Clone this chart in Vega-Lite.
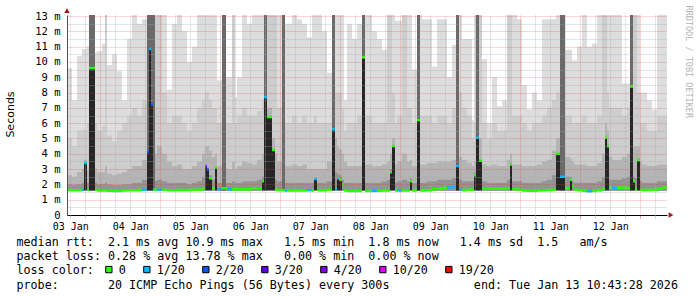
{
"$schema": "https://vega.github.io/schema/vega-lite/v6.json",
"width": 600, "height": 200,
"autosize": {"type": "none"},
"padding": {"left": 67, "top": 15, "right": 30, "bottom": 82},
"background": "white",
"config": {"view": {"stroke": null}},
"data": {"format": {"parse": {"s": "date", "e": "date"}}, "values": [
{"s":"2026-01-03T10:43Z","e":"2026-01-03T12:43Z","a":9.6,"b":5,"c":2.6,"d":2,"m":1.63,"L":"0"},
{"s":"2026-01-03T12:43Z","e":"2026-01-03T14:43Z","a":7.5,"b":4.5,"c":2.5,"d":1.95,"m":1.62,"L":"0"},
{"s":"2026-01-03T14:43Z","e":"2026-01-03T16:43Z","a":10.4,"b":5.5,"c":2.8,"d":2,"m":1.62,"L":"0"},
{"s":"2026-01-03T16:43Z","e":"2026-01-03T17:31Z","a":10.85,"b":5.6,"c":3,"d":2.1,"m":1.65,"L":"1/20"},
{"s":"2026-01-03T17:31Z","e":"2026-01-03T18:43Z","a":10.85,"b":5.6,"c":3.6,"d":3.4,"k":3.4,"m":3.4,"L":"1/20"},
{"s":"2026-01-03T18:43Z","e":"2026-01-03T19:31Z","a":11,"b":6,"c":2.9,"d":2.1,"m":1.65,"L":"0"},
{"s":"2026-01-03T19:31Z","e":"2026-01-03T21:55Z","a":13.5,"b":13.5,"c":13.5,"d":13.5,"f":13.5,"k":9.6,"m":9.6,"L":"0"},
{"s":"2026-01-03T21:55Z","e":"2026-01-03T22:43Z","a":10.6,"b":6,"c":3,"d":2.1,"m":1.65,"L":"0"},
{"s":"2026-01-03T22:43Z","e":"2026-01-04T00:43Z","a":10.7,"b":5.5,"c":2.8,"d":2,"m":1.6,"L":"0"},
{"s":"2026-01-04T00:43Z","e":"2026-01-04T01:55Z","a":11.2,"b":5.8,"c":2.8,"d":2,"m":1.6,"L":"0"},
{"s":"2026-01-04T01:55Z","e":"2026-01-04T02:43Z","a":13.5,"b":13.5,"c":3.2,"d":2.1,"m":1.6,"L":"0"},
{"s":"2026-01-04T02:43Z","e":"2026-01-04T04:43Z","a":9.8,"b":5.2,"c":2.7,"d":2,"m":1.58,"L":"0"},
{"s":"2026-01-04T04:43Z","e":"2026-01-04T06:43Z","a":10.5,"b":4.8,"c":2.6,"d":1.95,"m":1.57,"L":"0"},
{"s":"2026-01-04T06:43Z","e":"2026-01-04T08:43Z","a":9.4,"b":5.5,"c":2.7,"d":1.95,"m":1.57,"L":"0"},
{"s":"2026-01-04T08:43Z","e":"2026-01-04T10:43Z","a":7.5,"b":6,"c":2.8,"d":2,"m":1.6,"L":"0"},
{"s":"2026-01-04T10:43Z","e":"2026-01-04T12:43Z","a":11.5,"b":6.5,"c":3,"d":2,"m":1.62,"L":"0"},
{"s":"2026-01-04T12:43Z","e":"2026-01-04T14:43Z","a":13.5,"b":7,"c":3.2,"d":2.1,"m":1.62,"L":"0"},
{"s":"2026-01-04T14:43Z","e":"2026-01-04T16:43Z","a":12.5,"b":6.5,"c":3.2,"d":2.1,"m":1.63,"L":"0"},
{"s":"2026-01-04T16:43Z","e":"2026-01-04T18:43Z","a":12.8,"b":7.5,"c":3.6,"d":2.3,"m":1.65,"L":"1/20"},
{"s":"2026-01-04T18:43Z","e":"2026-01-04T19:31Z","a":13.5,"b":13.5,"c":13.5,"d":13.5,"f":13.5,"k":4.1,"m":4.1,"L":"2/20"},
{"s":"2026-01-04T19:31Z","e":"2026-01-04T20:19Z","a":13.5,"b":13.5,"c":13.5,"d":13.5,"f":13.5,"k":10.85,"m":10.85,"L":"1/20"},
{"s":"2026-01-04T20:19Z","e":"2026-01-04T21:07Z","a":13.5,"b":13.5,"c":13.5,"d":13.5,"f":13.5,"k":7.2,"m":7.2,"L":"2/20"},
{"s":"2026-01-04T21:07Z","e":"2026-01-04T21:55Z","a":13.5,"b":13.5,"c":13.5,"d":2.3,"f":13.5,"m":1.65,"L":"0"},
{"s":"2026-01-04T21:55Z","e":"2026-01-04T22:43Z","a":13.5,"b":13.5,"c":4,"d":2.2,"m":1.65,"L":"0"},
{"s":"2026-01-04T22:43Z","e":"2026-01-05T00:43Z","a":13.5,"b":13.5,"c":4.5,"d":2.3,"m":1.65,"L":"1/20"},
{"s":"2026-01-05T00:43Z","e":"2026-01-05T02:43Z","a":13.5,"b":8,"c":4,"d":2.2,"m":1.65,"L":"0"},
{"s":"2026-01-05T02:43Z","e":"2026-01-05T04:43Z","a":8.2,"b":6,"c":3.5,"d":2.1,"m":1.62,"L":"0"},
{"s":"2026-01-05T04:43Z","e":"2026-01-05T06:43Z","a":12.5,"b":6.5,"c":3.2,"d":2.1,"m":1.62,"L":"0"},
{"s":"2026-01-05T06:43Z","e":"2026-01-05T08:43Z","a":13.5,"b":6.5,"c":3.3,"d":2.1,"m":1.63,"L":"0"},
{"s":"2026-01-05T08:43Z","e":"2026-01-05T10:43Z","a":12,"b":6,"c":3,"d":2.1,"m":1.63,"L":"0"},
{"s":"2026-01-05T10:43Z","e":"2026-01-05T12:43Z","a":10,"b":5.5,"c":3,"d":2,"m":1.63,"L":"0"},
{"s":"2026-01-05T12:43Z","e":"2026-01-05T14:43Z","a":11,"b":6,"c":3.2,"d":2.1,"m":1.65,"L":"0"},
{"s":"2026-01-05T14:43Z","e":"2026-01-05T16:43Z","a":13.5,"b":7,"c":3.5,"d":2.2,"m":1.65,"L":"0"},
{"s":"2026-01-05T16:43Z","e":"2026-01-05T17:55Z","a":13.5,"b":7.5,"c":4,"d":2.5,"m":1.7,"L":"0"},
{"s":"2026-01-05T17:55Z","e":"2026-01-05T18:43Z","a":13.5,"b":8,"c":4.5,"d":3.3,"k":3.15,"m":3.15,"L":"3/20"},
{"s":"2026-01-05T18:43Z","e":"2026-01-05T19:31Z","a":13.5,"b":8,"c":4.5,"d":3.1,"k":2.95,"m":2.95,"L":"2/20"},
{"s":"2026-01-05T19:31Z","e":"2026-01-05T20:43Z","a":13.5,"b":7.5,"c":4.2,"d":2.6,"k":2.4,"m":2.4,"L":"0"},
{"s":"2026-01-05T20:43Z","e":"2026-01-05T21:55Z","a":13.5,"b":7,"c":3.8,"d":2.3,"m":1.75,"L":"0"},
{"s":"2026-01-05T21:55Z","e":"2026-01-05T22:43Z","a":13.5,"b":7,"c":4,"d":3.2,"k":3.1,"m":3.1,"L":"0"},
{"s":"2026-01-05T22:43Z","e":"2026-01-06T00:43Z","a":8.8,"b":6,"c":3.2,"d":2.1,"m":1.68,"L":"1/20"},
{"s":"2026-01-06T00:43Z","e":"2026-01-06T02:19Z","a":13.5,"b":13.5,"c":13.5,"d":2.3,"f":13.5,"m":1.75,"L":"0"},
{"s":"2026-01-06T02:19Z","e":"2026-01-06T02:43Z","a":9,"b":6,"c":3,"d":2.1,"m":1.68,"L":"0"},
{"s":"2026-01-06T02:43Z","e":"2026-01-06T04:43Z","a":9,"b":6,"c":3,"d":2.1,"m":1.68,"L":"1/20"},
{"s":"2026-01-06T04:43Z","e":"2026-01-06T05:55Z","a":13.5,"b":13.5,"c":3.5,"d":2.2,"m":1.68,"L":"0"},
{"s":"2026-01-06T05:55Z","e":"2026-01-06T06:43Z","a":7.7,"b":6,"c":3,"d":2.1,"m":1.68,"L":"0"},
{"s":"2026-01-06T06:43Z","e":"2026-01-06T08:43Z","a":9,"b":6.5,"c":3.2,"d":2.1,"m":1.67,"L":"0"},
{"s":"2026-01-06T08:43Z","e":"2026-01-06T10:43Z","a":13.5,"b":7,"c":3.5,"d":2.2,"m":1.68,"L":"0"},
{"s":"2026-01-06T10:43Z","e":"2026-01-06T12:43Z","a":12.5,"b":6.5,"c":3.4,"d":2.2,"m":1.68,"L":"0"},
{"s":"2026-01-06T12:43Z","e":"2026-01-06T14:43Z","a":13.5,"b":6.5,"c":3.3,"d":2.2,"m":1.75,"L":"0"},
{"s":"2026-01-06T14:43Z","e":"2026-01-06T16:43Z","a":13.5,"b":6.8,"c":3.6,"d":2.3,"m":1.72,"L":"0"},
{"s":"2026-01-06T16:43Z","e":"2026-01-06T17:31Z","a":13.5,"b":7.5,"c":4,"d":2.5,"k":2.2,"m":2.2,"L":"0"},
{"s":"2026-01-06T17:31Z","e":"2026-01-06T18:43Z","a":13.5,"b":13.5,"c":13.5,"d":13.5,"f":13.5,"k":7.7,"m":7.7,"L":"1/20"},
{"s":"2026-01-06T18:43Z","e":"2026-01-06T20:43Z","a":13.5,"b":13.5,"c":7,"d":6.4,"k":6.4,"m":6.4,"L":"0"},
{"s":"2026-01-06T20:43Z","e":"2026-01-06T21:55Z","a":13.5,"b":13.5,"c":5,"d":4.3,"k":4.25,"m":4.25,"L":"0"},
{"s":"2026-01-06T21:55Z","e":"2026-01-06T22:43Z","a":13.5,"b":13.5,"c":4,"d":2.3,"m":1.65,"L":"0"},
{"s":"2026-01-06T22:43Z","e":"2026-01-07T00:43Z","a":13.5,"b":7,"c":3.5,"d":2.2,"m":1.63,"L":"0"},
{"s":"2026-01-07T00:43Z","e":"2026-01-07T01:55Z","a":13.5,"b":13.5,"c":13.5,"d":2.4,"f":13.5,"m":1.62,"L":"0"},
{"s":"2026-01-07T01:55Z","e":"2026-01-07T02:43Z","a":12.5,"b":6,"c":3.2,"d":2.1,"m":1.6,"L":"1/20"},
{"s":"2026-01-07T02:43Z","e":"2026-01-07T04:43Z","a":12.5,"b":6,"c":3.2,"d":2.1,"m":1.6,"L":"0"},
{"s":"2026-01-07T04:43Z","e":"2026-01-07T06:43Z","a":13.5,"b":6.5,"c":3.3,"d":2.1,"m":1.6,"L":"0"},
{"s":"2026-01-07T06:43Z","e":"2026-01-07T08:43Z","a":12.8,"b":6,"c":3.2,"d":2.1,"m":1.6,"L":"0"},
{"s":"2026-01-07T08:43Z","e":"2026-01-07T10:43Z","a":12.5,"b":6.5,"c":3.3,"d":2.1,"m":1.6,"L":"0"},
{"s":"2026-01-07T10:43Z","e":"2026-01-07T12:43Z","a":11.6,"b":6,"c":3,"d":2.1,"m":1.62,"L":"1/20"},
{"s":"2026-01-07T12:43Z","e":"2026-01-07T13:31Z","a":13.5,"b":6,"c":3,"d":2.1,"m":1.6,"L":"0"},
{"s":"2026-01-07T13:31Z","e":"2026-01-07T14:43Z","a":13.5,"b":6.5,"c":3,"d":2.4,"k":2.35,"m":2.35,"L":"1/20"},
{"s":"2026-01-07T14:43Z","e":"2026-01-07T16:43Z","a":13.5,"b":6,"c":3,"d":2.1,"m":1.62,"L":"0"},
{"s":"2026-01-07T16:43Z","e":"2026-01-07T18:43Z","a":12,"b":6,"c":3,"d":2.1,"m":1.62,"L":"0"},
{"s":"2026-01-07T18:43Z","e":"2026-01-07T20:43Z","a":9.3,"b":6,"c":3.5,"d":2.2,"m":1.65,"L":"0"},
{"s":"2026-01-07T20:43Z","e":"2026-01-07T21:55Z","a":13.5,"b":13.5,"c":13.5,"d":13.5,"f":13.5,"k":5.6,"m":5.6,"L":"1/20"},
{"s":"2026-01-07T21:55Z","e":"2026-01-07T22:43Z","a":13.5,"b":8,"c":5,"d":2.8,"m":1.7,"L":"1/20"},
{"s":"2026-01-07T22:43Z","e":"2026-01-07T23:31Z","a":13.5,"b":8,"c":4.5,"d":2.7,"k":2.4,"m":2.4,"L":"1/20"},
{"s":"2026-01-07T23:31Z","e":"2026-01-08T00:43Z","a":13.5,"b":8,"c":4.3,"d":2.6,"k":2.3,"m":2.3,"L":"0"},
{"s":"2026-01-08T00:43Z","e":"2026-01-08T01:31Z","a":13.5,"b":7,"c":4,"d":2.3,"m":2,"L":"0"},
{"s":"2026-01-08T01:31Z","e":"2026-01-08T02:43Z","a":7.5,"b":5.5,"c":3.5,"d":2.1,"m":1.6,"L":"0"},
{"s":"2026-01-08T02:43Z","e":"2026-01-08T04:43Z","a":12.5,"b":6,"c":3.2,"d":2.1,"m":1.57,"L":"0"},
{"s":"2026-01-08T04:43Z","e":"2026-01-08T06:43Z","a":11.5,"b":6,"c":3.2,"d":2.1,"m":1.57,"L":"0"},
{"s":"2026-01-08T06:43Z","e":"2026-01-08T08:43Z","a":12.5,"b":6.5,"c":3.2,"d":2.1,"m":1.57,"L":"0"},
{"s":"2026-01-08T08:43Z","e":"2026-01-08T09:55Z","a":13.5,"b":13.5,"c":13.5,"d":13.5,"f":13.5,"k":10.3,"m":10.3,"L":"0"},
{"s":"2026-01-08T09:55Z","e":"2026-01-08T10:43Z","a":13.5,"b":6.5,"c":3.3,"d":2.1,"m":1.57,"L":"0"},
{"s":"2026-01-08T10:43Z","e":"2026-01-08T12:43Z","a":13.5,"b":6.5,"c":3.3,"d":2.1,"m":1.57,"L":"0"},
{"s":"2026-01-08T12:43Z","e":"2026-01-08T14:43Z","a":12,"b":6,"c":3.2,"d":2.1,"m":1.58,"L":"1/20"},
{"s":"2026-01-08T14:43Z","e":"2026-01-08T16:43Z","a":11.5,"b":6,"c":3.2,"d":2.1,"m":1.58,"L":"0"},
{"s":"2026-01-08T16:43Z","e":"2026-01-08T18:43Z","a":10.8,"b":6,"c":3.3,"d":2.2,"m":1.6,"L":"0"},
{"s":"2026-01-08T18:43Z","e":"2026-01-08T19:55Z","a":13.5,"b":13.5,"c":3.5,"d":2.3,"m":1.6,"L":"0"},
{"s":"2026-01-08T19:55Z","e":"2026-01-08T20:43Z","a":13.5,"b":13.5,"c":4,"d":3,"k":2.8,"m":2.8,"L":"0"},
{"s":"2026-01-08T20:43Z","e":"2026-01-08T21:55Z","a":13.5,"b":8,"c":5,"d":4.5,"k":4.5,"m":4.5,"L":"0"},
{"s":"2026-01-08T21:55Z","e":"2026-01-08T22:43Z","a":12.7,"b":6,"c":3.3,"d":2.1,"m":1.6,"L":"0"},
{"s":"2026-01-08T22:43Z","e":"2026-01-09T00:43Z","a":12.7,"b":6.5,"c":3.5,"d":2.2,"m":1.6,"L":"1/20"},
{"s":"2026-01-09T00:43Z","e":"2026-01-09T02:43Z","a":13.5,"b":13.5,"c":4,"d":2.3,"m":1.6,"L":"0"},
{"s":"2026-01-09T02:43Z","e":"2026-01-09T03:55Z","a":13.5,"b":7,"c":3.5,"d":2.2,"m":1.6,"L":"0"},
{"s":"2026-01-09T03:55Z","e":"2026-01-09T04:43Z","a":13.5,"b":7,"c":3.6,"d":2.4,"k":2.2,"m":2.2,"L":"0"},
{"s":"2026-01-09T04:43Z","e":"2026-01-09T06:43Z","a":9.5,"b":6,"c":3.2,"d":2.1,"m":1.6,"L":"0"},
{"s":"2026-01-09T06:43Z","e":"2026-01-09T07:55Z","a":13.5,"b":13.5,"c":13.5,"d":13.5,"f":13.5,"k":6.2,"m":6.2,"L":"0"},
{"s":"2026-01-09T07:55Z","e":"2026-01-09T08:43Z","a":13.5,"b":6.5,"c":3.3,"d":2.1,"m":1.6,"L":"0"},
{"s":"2026-01-09T08:43Z","e":"2026-01-09T10:43Z","a":12.8,"b":6.5,"c":3.3,"d":2.1,"m":1.6,"L":"0"},
{"s":"2026-01-09T10:43Z","e":"2026-01-09T12:43Z","a":12.8,"b":6.5,"c":3.4,"d":2.2,"m":1.62,"L":"0"},
{"s":"2026-01-09T12:43Z","e":"2026-01-09T14:43Z","a":9.7,"b":6,"c":3.4,"d":2.2,"m":1.68,"L":"0"},
{"s":"2026-01-09T14:43Z","e":"2026-01-09T16:43Z","a":12.8,"b":6.5,"c":3.5,"d":2.3,"m":1.72,"L":"0"},
{"s":"2026-01-09T16:43Z","e":"2026-01-09T18:43Z","a":12.8,"b":6.5,"c":3.5,"d":2.3,"m":1.76,"L":"0"},
{"s":"2026-01-09T18:43Z","e":"2026-01-09T20:43Z","a":9,"b":6,"c":3.5,"d":2.3,"m":1.8,"L":"1/20"},
{"s":"2026-01-09T20:43Z","e":"2026-01-09T22:19Z","a":11.1,"b":7,"c":3.6,"d":2.4,"m":1.82,"L":"1/20"},
{"s":"2026-01-09T22:19Z","e":"2026-01-09T23:31Z","a":13.5,"b":13.5,"c":13.5,"d":3.3,"f":13.5,"k":3.2,"m":3.2,"L":"1/20"},
{"s":"2026-01-09T23:31Z","e":"2026-01-10T00:43Z","a":13.5,"b":8,"c":3.8,"d":2.3,"m":1.68,"L":"1/20"},
{"s":"2026-01-10T00:43Z","e":"2026-01-10T02:43Z","a":11.5,"b":7,"c":3.6,"d":2.2,"m":1.62,"L":"0"},
{"s":"2026-01-10T02:43Z","e":"2026-01-10T04:43Z","a":11.5,"b":6.5,"c":3.4,"d":2.2,"m":1.65,"L":"0"},
{"s":"2026-01-10T04:43Z","e":"2026-01-10T05:31Z","a":6.2,"b":5,"c":3.2,"d":2.2,"m":1.65,"L":"0"},
{"s":"2026-01-10T05:31Z","e":"2026-01-10T06:19Z","a":13.5,"b":6,"c":3.5,"d":2.8,"k":2.6,"m":2.6,"L":"0"},
{"s":"2026-01-10T06:19Z","e":"2026-01-10T07:31Z","a":13.5,"b":13.5,"c":13.5,"d":13.5,"f":13.5,"k":5.05,"m":5.05,"L":"1/20"},
{"s":"2026-01-10T07:31Z","e":"2026-01-10T08:43Z","a":13.5,"b":13.5,"c":5,"d":3.6,"k":3.55,"m":3.55,"L":"0"},
{"s":"2026-01-10T08:43Z","e":"2026-01-10T10:43Z","a":10.2,"b":6,"c":3.3,"d":2.2,"m":1.72,"L":"0"},
{"s":"2026-01-10T10:43Z","e":"2026-01-10T12:43Z","a":6,"b":5,"c":3.2,"d":2.1,"m":1.72,"L":"0"},
{"s":"2026-01-10T12:43Z","e":"2026-01-10T14:43Z","a":9,"b":6,"c":3.3,"d":2.1,"m":1.72,"L":"0"},
{"s":"2026-01-10T14:43Z","e":"2026-01-10T16:43Z","a":7.1,"b":5.5,"c":3.2,"d":2.1,"m":1.72,"L":"0"},
{"s":"2026-01-10T16:43Z","e":"2026-01-10T18:43Z","a":7.5,"b":5.5,"c":3.2,"d":2.1,"m":1.72,"L":"0"},
{"s":"2026-01-10T18:43Z","e":"2026-01-10T19:55Z","a":13.5,"b":13.5,"c":3.6,"d":2.3,"m":1.72,"L":"0"},
{"s":"2026-01-10T19:55Z","e":"2026-01-10T20:43Z","a":13.5,"b":13.5,"c":4,"d":3.4,"k":3.3,"m":3.3,"L":"0"},
{"s":"2026-01-10T20:43Z","e":"2026-01-10T22:43Z","a":13.5,"b":6.5,"c":3.3,"d":2.2,"m":1.7,"L":"0"},
{"s":"2026-01-10T22:43Z","e":"2026-01-11T00:43Z","a":12.8,"b":6.5,"c":3.3,"d":2.2,"m":1.65,"L":"0"},
{"s":"2026-01-11T00:43Z","e":"2026-01-11T02:43Z","a":8.5,"b":6,"c":3.2,"d":2.1,"m":1.6,"L":"0"},
{"s":"2026-01-11T02:43Z","e":"2026-01-11T04:43Z","a":6.9,"b":5.5,"c":3.2,"d":2.1,"m":1.58,"L":"0"},
{"s":"2026-01-11T04:43Z","e":"2026-01-11T06:43Z","a":8,"b":6,"c":3.2,"d":2.1,"m":1.58,"L":"0"},
{"s":"2026-01-11T06:43Z","e":"2026-01-11T08:43Z","a":7.5,"b":6,"c":3.3,"d":2.1,"m":1.6,"L":"0"},
{"s":"2026-01-11T08:43Z","e":"2026-01-11T10:43Z","a":12.8,"b":6.5,"c":3.5,"d":2.2,"m":1.62,"L":"0"},
{"s":"2026-01-11T10:43Z","e":"2026-01-11T12:43Z","a":12.8,"b":7,"c":3.6,"d":2.3,"m":1.63,"L":"0"},
{"s":"2026-01-11T12:43Z","e":"2026-01-11T14:19Z","a":12.8,"b":7.5,"c":4.2,"d":2.6,"m":1.65,"L":"0"},
{"s":"2026-01-11T14:19Z","e":"2026-01-11T15:55Z","a":13.5,"b":8,"c":5,"d":4,"k":4,"m":4,"L":"0"},
{"s":"2026-01-11T15:55Z","e":"2026-01-11T17:55Z","a":13.5,"b":13.5,"c":13.5,"d":13.5,"f":13.5,"k":2.5,"m":2.5,"L":"1/20"},
{"s":"2026-01-11T17:55Z","e":"2026-01-11T19:55Z","a":10.8,"b":6.5,"c":3.8,"d":2.5,"m":1.75,"L":"0"},
{"s":"2026-01-11T19:55Z","e":"2026-01-11T20:43Z","a":10.8,"b":6.5,"c":3.7,"d":2.5,"k":2.3,"m":2.3,"L":"0"},
{"s":"2026-01-11T20:43Z","e":"2026-01-11T21:31Z","a":10.1,"b":6,"c":3.5,"d":2.2,"m":1.9,"L":"0"},
{"s":"2026-01-11T21:31Z","e":"2026-01-11T22:43Z","a":10.1,"b":6,"c":3.3,"d":2.1,"m":1.68,"L":"0"},
{"s":"2026-01-11T22:43Z","e":"2026-01-12T00:43Z","a":11,"b":6,"c":3.3,"d":2.1,"m":1.62,"L":"0"},
{"s":"2026-01-12T00:43Z","e":"2026-01-12T02:43Z","a":13.5,"b":6.5,"c":3.3,"d":2.1,"m":1.58,"L":"0"},
{"s":"2026-01-12T02:43Z","e":"2026-01-12T04:43Z","a":11,"b":6,"c":3.2,"d":2.1,"m":1.55,"L":"1/20"},
{"s":"2026-01-12T04:43Z","e":"2026-01-12T06:43Z","a":11.2,"b":6,"c":3.2,"d":2.1,"m":1.57,"L":"0"},
{"s":"2026-01-12T06:43Z","e":"2026-01-12T08:43Z","a":13.5,"b":6.5,"c":3.4,"d":2.2,"m":1.62,"L":"0"},
{"s":"2026-01-12T08:43Z","e":"2026-01-12T09:55Z","a":13.5,"b":13.5,"c":4,"d":2.5,"m":1.7,"L":"0"},
{"s":"2026-01-12T09:55Z","e":"2026-01-12T10:43Z","a":13.5,"b":13.5,"c":6,"d":5.1,"k":5.05,"m":5.05,"L":"0"},
{"s":"2026-01-12T10:43Z","e":"2026-01-12T11:31Z","a":13.5,"b":8,"c":5.5,"d":4.6,"k":4.5,"m":4.5,"L":"0"},
{"s":"2026-01-12T11:31Z","e":"2026-01-12T12:43Z","a":13.5,"b":7,"c":3.8,"d":2.3,"m":1.8,"L":"0"},
{"s":"2026-01-12T12:43Z","e":"2026-01-12T14:43Z","a":13.5,"b":7,"c":3.6,"d":2.3,"m":1.78,"L":"1/20"},
{"s":"2026-01-12T14:43Z","e":"2026-01-12T16:43Z","a":13.5,"b":7,"c":3.6,"d":2.3,"m":1.78,"L":"0"},
{"s":"2026-01-12T16:43Z","e":"2026-01-12T18:43Z","a":8.6,"b":6.5,"c":3.8,"d":2.4,"m":1.78,"L":"0"},
{"s":"2026-01-12T18:43Z","e":"2026-01-12T19:55Z","a":8.6,"b":7,"c":4,"d":2.5,"m":1.75,"L":"0"},
{"s":"2026-01-12T19:55Z","e":"2026-01-12T21:07Z","a":13.5,"b":13.5,"c":13.5,"d":13.5,"f":13.5,"k":8.4,"m":8.4,"L":"0"},
{"s":"2026-01-12T21:07Z","e":"2026-01-12T21:55Z","a":13.5,"b":13.5,"c":4.5,"d":2.5,"k":2.2,"m":2.2,"L":"0"},
{"s":"2026-01-12T21:55Z","e":"2026-01-12T22:43Z","a":13.5,"b":13.5,"c":4.5,"d":2.4,"m":1.7,"L":"0"},
{"s":"2026-01-12T22:43Z","e":"2026-01-12T23:55Z","a":13.5,"b":8,"c":4.5,"d":3.7,"k":3.6,"m":3.6,"L":"0"},
{"s":"2026-01-12T23:55Z","e":"2026-01-13T00:43Z","a":8,"b":6,"c":3.5,"d":2.2,"m":1.65,"L":"0"},
{"s":"2026-01-13T00:43Z","e":"2026-01-13T02:43Z","a":8,"b":6,"c":3.3,"d":2.1,"m":1.63,"L":"0"},
{"s":"2026-01-13T02:43Z","e":"2026-01-13T04:43Z","a":7.5,"b":5.5,"c":3.2,"d":2.1,"m":1.63,"L":"0"},
{"s":"2026-01-13T04:43Z","e":"2026-01-13T06:43Z","a":6.9,"b":5.5,"c":3.2,"d":2.1,"m":1.65,"L":"0"},
{"s":"2026-01-13T06:43Z","e":"2026-01-13T08:43Z","a":13.5,"b":6.5,"c":3.3,"d":2.2,"m":1.72,"L":"0"},
{"s":"2026-01-13T08:43Z","e":"2026-01-13T10:43Z","a":13.5,"b":6.5,"c":3.3,"d":2.2,"m":1.8,"L":"0"}
]},
"layer": [
{"mark": {"type": "rect", "color": "#dddddd", "clip": true},
 "encoding": {
  "x": {"field": "s", "type": "temporal",
        "scale": {"type": "utc", "nice": false, "domain": [{"year": 2026, "month": 1, "date": 3, "hours": 10, "minutes": 43, "utc": true}, {"year": 2026, "month": 1, "date": 13, "hours": 10, "minutes": 43, "utc": true}]},
        "axis": {"orient": "bottom",
                 "values": [{"year": 2026, "month": 1, "date": 4, "utc": true}, {"year": 2026, "month": 1, "date": 5, "utc": true}, {"year": 2026, "month": 1, "date": 6, "utc": true}, {"year": 2026, "month": 1, "date": 7, "utc": true}, {"year": 2026, "month": 1, "date": 8, "utc": true}, {"year": 2026, "month": 1, "date": 9, "utc": true}, {"year": 2026, "month": 1, "date": 10, "utc": true}, {"year": 2026, "month": 1, "date": 11, "utc": true}, {"year": 2026, "month": 1, "date": 12, "utc": true}, {"year": 2026, "month": 1, "date": 13, "utc": true}],
                 "labels": false, "title": null, "domain": true, "domainColor": "#000000", "domainWidth": 1, "ticks": true, "tickSize": 3, "tickColor": "#e04040", "tickDash": [1, 1], "grid": true, "gridColor": "#e04040", "gridOpacity": 0.42, "gridDash": [1, 1], "zindex": 1}},
  "x2": {"field": "e"},
  "y": {"field": "a", "type": "quantitative",
        "scale": {"domain": [0, 13.07], "nice": false, "zero": false},
        "axis": {"orient": "left", "values": [0,1,2,3,4,5,6,7,8,9,10,11,12,13], "labelExpr": "datum.value == 0 ? '0\u00a0\u00a0' : datum.value + ' m'", "labelFont": "DejaVu Sans Mono", "labelFontSize": 10.5, "labelColor": "#000000", "labelPadding": 7, "ticks": false, "tickSize": 0, "domain": true, "domainColor": "#505050", "grid": true, "gridColor": "#e04040", "gridOpacity": 0.42, "gridDash": [1, 1], "title": "Seconds", "titleFont": "DejaVu Sans", "titleFontSize": 11, "titleFontWeight": "normal", "titleColor": "#000000", "titleX": -57, "titleY": 99, "titleAngle": 270, "titleAlign": "center", "titleBaseline": "middle", "zindex": 1}},
  "y2": {"datum": 1.58}}},
{"mark": {"type": "rect", "color": "#cdcdcd", "clip": true},
 "encoding": {
  "x": {"field": "s", "type": "temporal",
        "axis": {"orient": "bottom",
                 "values": [{"year": 2026, "month": 1, "date": 3, "hours": 12, "utc": true}, {"year": 2026, "month": 1, "date": 3, "hours": 18, "utc": true},
                            {"year": 2026, "month": 1, "date": 4, "hours": 6, "utc": true}, {"year": 2026, "month": 1, "date": 4, "hours": 12, "utc": true}, {"year": 2026, "month": 1, "date": 4, "hours": 18, "utc": true},
                            {"year": 2026, "month": 1, "date": 5, "hours": 6, "utc": true}, {"year": 2026, "month": 1, "date": 5, "hours": 12, "utc": true}, {"year": 2026, "month": 1, "date": 5, "hours": 18, "utc": true},
                            {"year": 2026, "month": 1, "date": 6, "hours": 6, "utc": true}, {"year": 2026, "month": 1, "date": 6, "hours": 12, "utc": true}, {"year": 2026, "month": 1, "date": 6, "hours": 18, "utc": true},
                            {"year": 2026, "month": 1, "date": 7, "hours": 6, "utc": true}, {"year": 2026, "month": 1, "date": 7, "hours": 12, "utc": true}, {"year": 2026, "month": 1, "date": 7, "hours": 18, "utc": true},
                            {"year": 2026, "month": 1, "date": 8, "hours": 6, "utc": true}, {"year": 2026, "month": 1, "date": 8, "hours": 12, "utc": true}, {"year": 2026, "month": 1, "date": 8, "hours": 18, "utc": true},
                            {"year": 2026, "month": 1, "date": 9, "hours": 6, "utc": true}, {"year": 2026, "month": 1, "date": 9, "hours": 12, "utc": true}, {"year": 2026, "month": 1, "date": 9, "hours": 18, "utc": true},
                            {"year": 2026, "month": 1, "date": 10, "hours": 6, "utc": true}, {"year": 2026, "month": 1, "date": 10, "hours": 12, "utc": true}, {"year": 2026, "month": 1, "date": 10, "hours": 18, "utc": true},
                            {"year": 2026, "month": 1, "date": 11, "hours": 6, "utc": true}, {"year": 2026, "month": 1, "date": 11, "hours": 12, "utc": true}, {"year": 2026, "month": 1, "date": 11, "hours": 18, "utc": true},
                            {"year": 2026, "month": 1, "date": 12, "hours": 6, "utc": true}, {"year": 2026, "month": 1, "date": 12, "hours": 12, "utc": true}, {"year": 2026, "month": 1, "date": 12, "hours": 18, "utc": true},
                            {"year": 2026, "month": 1, "date": 13, "hours": 6, "utc": true}],
                 "labels": false, "title": null, "domain": false, "ticks": true, "tickSize": 3, "tickColor": "#a8a8a8", "tickDash": [1, 1], "grid": true, "gridColor": "#a8a8a8", "gridOpacity": 0.6, "gridDash": [1, 1], "zindex": 1}},
  "x2": {"field": "e"},
  "y": {"field": "b", "type": "quantitative",
        "axis": {"orient": "left", "values": [0.5,1.5,2.5,3.5,4.5,5.5,6.5,7.5,8.5,9.5,10.5,11.5,12.5], "labels": false, "ticks": false, "domain": false, "title": null, "grid": true, "gridColor": "#a8a8a8", "gridOpacity": 0.6, "gridDash": [1, 1], "zindex": 1}},
  "y2": {"datum": 1.58}}},
{"mark": {"type": "rect", "color": "#b4b4b4", "clip": true},
 "encoding": {
  "x": {"field": "s", "type": "temporal",
        "axis": {"orient": "bottom",
                 "values": [{"year": 2026, "month": 1, "date": 3, "hours": 12, "utc": true}, {"year": 2026, "month": 1, "date": 4, "hours": 12, "utc": true}, {"year": 2026, "month": 1, "date": 5, "hours": 12, "utc": true}, {"year": 2026, "month": 1, "date": 6, "hours": 12, "utc": true}, {"year": 2026, "month": 1, "date": 7, "hours": 12, "utc": true}, {"year": 2026, "month": 1, "date": 8, "hours": 12, "utc": true}, {"year": 2026, "month": 1, "date": 9, "hours": 12, "utc": true}, {"year": 2026, "month": 1, "date": 10, "hours": 12, "utc": true}, {"year": 2026, "month": 1, "date": 11, "hours": 12, "utc": true}, {"year": 2026, "month": 1, "date": 12, "hours": 12, "utc": true}],
                 "labelExpr": "utcFormat(datum.value, '%d %b')", "labelFont": "DejaVu Sans Mono", "labelFontSize": 10, "labelColor": "#000000", "labelPadding": 6, "labelFlush": false, "labelOverlap": false, "labelBound": false,
                 "grid": false, "domain": false, "ticks": false, "tickSize": 0,
                 "title": ["median rtt:\u00a0\u00a02.1 ms avg 10.9 ms max\u00a0\u00a0\u00a01.5 ms min\u00a0\u00a01.8 ms now\u00a0\u00a0\u00a01.4 ms sd\u00a0\u00a01.5\u00a0\u00a0\u00a0am/s", "packet loss: 0.28 % avg 13.78 % max\u00a0\u00a0\u00a00.00 % min\u00a0\u00a00.00 % now", "loss color:", "probe:\u00a0\u00a0\u00a0\u00a0\u00a0\u00a0\u00a020 ICMP Echo Pings (56 Bytes) every 300s\u00a0\u00a0\u00a0\u00a0\u00a0\u00a0\u00a0\u00a0\u00a0\u00a0\u00a0\u00a0end: Tue Jan 13 10:43:28 2026"],
                 "titleFont": "DejaVu Sans Mono", "titleFontSize": 11.7, "titleFontWeight": "normal", "titleColor": "#000000", "titleLineHeight": 14.4, "titleX": -51, "titleY": 30, "titleAlign": "left", "titleBaseline": "alphabetic", "titleAngle": 0, "titleAnchor": "start", "zindex": 1}},
  "x2": {"field": "e"},
  "y": {"field": "c", "type": "quantitative",
        "axis": {"orient": "right", "labels": false, "ticks": false, "domain": false, "grid": false, "title": "RRDTOOL / TOBI OETIKER", "titleFont": "DejaVu Sans Mono", "titleFontSize": 8.5, "titleFontWeight": "normal", "titleColor": "#b4b4b4", "titleAngle": 90, "titleX": 21, "titleY": -10, "titleAlign": "left", "titleBaseline": "middle"}},
  "y2": {"datum": 1.58}}},
{"mark": {"type": "rect", "color": "#939393", "clip": true},
 "encoding": {
  "x": {"field": "s", "type": "temporal", "axis": null},
  "x2": {"field": "e"},
  "y": {"field": "d", "type": "quantitative", "axis": null},
  "y2": {"datum": 1.58}}},
{"mark": {"type": "rect", "color": "#6a6a6a", "clip": true},
 "encoding": {
  "x": {"field": "s", "type": "temporal", "axis": null},
  "x2": {"field": "e"},
  "y": {"field": "f", "type": "quantitative", "axis": null},
  "y2": {"datum": 1.58}}},
{"mark": {"type": "rect", "color": "#262626", "clip": true},
 "encoding": {
  "x": {"field": "s", "type": "temporal", "axis": null},
  "x2": {"field": "e"},
  "y": {"field": "k", "type": "quantitative", "axis": null},
  "y2": {"datum": 1.62}}},
{"mark": {"type": "rule", "strokeWidth": 2.5, "strokeCap": "butt", "clip": true},
 "encoding": {
  "x": {"field": "s", "type": "temporal", "axis": null},
  "x2": {"field": "e"},
  "y": {"field": "m", "type": "quantitative", "axis": null},
  "stroke": {"field": "L", "type": "nominal", "legend": null,
             "scale": {"domain": ["19/20", "10/20", "4/20", "3/20", "2/20", "1/20", "0"], "range": ["#ff0000", "#dd00ff", "#7e00ff", "#5e00ff", "#0059ff", "#00b8ff", "#26ff00"]}}}},
{"transform": [{"filter": "datum.m > 100"}],
 "mark": {"type": "point", "shape": "square", "filled": true},
 "encoding": {
  "x": {"field": "s", "type": "temporal", "axis": null},
  "y": {"field": "m", "type": "quantitative", "axis": null},
  "fill": {"field": "L", "type": "nominal",
           "scale": {"domain": ["0", "1/20", "2/20", "3/20", "4/20", "10/20", "19/20"], "range": ["#26ff00", "#00b8ff", "#0059ff", "#5e00ff", "#7e00ff", "#dd00ff", "#ff0000"]},
           "legend": {"orient": "none", "legendX": 36, "legendY": 248.5, "direction": "horizontal", "columns": 7, "title": null, "symbolType": "square", "symbolSize": 40, "symbolStrokeColor": "#000000", "symbolStrokeWidth": 1, "symbolOpacity": 1, "labelFont": "DejaVu Sans Mono", "labelFontSize": 11.7, "labelColor": "#000000", "labelOffset": 4, "columnPadding": 15, "padding": 0, "labelLimit": 0}}}},
{"mark": {"type": "point", "shape": "triangle-up", "filled": true, "color": "#a01818", "size": 30, "opacity": 1},
 "encoding": {
  "x": {"aggregate": "min", "field": "s", "type": "temporal", "axis": null},
  "y": {"datum": 13.36, "type": "quantitative", "axis": null}}},
{"mark": {"type": "point", "shape": "triangle-right", "filled": true, "color": "#a01818", "size": 30, "opacity": 1, "xOffset": 4},
 "encoding": {
  "x": {"aggregate": "max", "field": "e", "type": "temporal", "axis": null},
  "y": {"datum": 0, "type": "quantitative", "axis": null}}}
],
"resolve": {"axis": {"x": "independent", "y": "independent"}}
}
